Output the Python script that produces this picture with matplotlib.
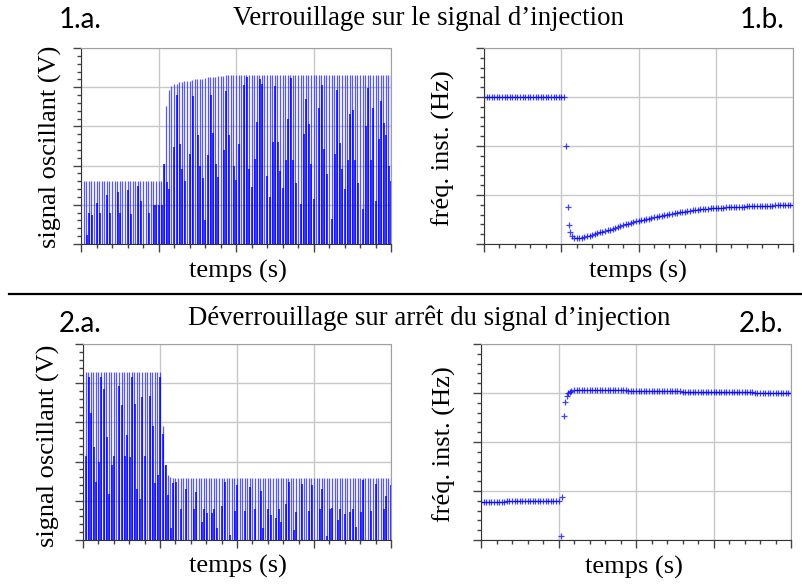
import numpy as np
import matplotlib.pyplot as plt
from matplotlib.ticker import MultipleLocator
from matplotlib.lines import Line2D

plt.rcParams['font.family'] = ['Liberation Serif', 'DejaVu Serif']

# one stroke / one frequency point per oscillation period
t_cycle = np.arange(121) / 30

# 1.a. locking : top of each stroke (envelope) and the darker inner part
env_lock = [1.60] * 31 + [
    2.03, 3.52, 3.93, 4.02, 4.08, 4.09, 4.13, 4.14, 4.15, 4.16,
    4.17, 4.19, 4.20, 4.21, 4.21, 4.22, 4.23, 4.25, 4.25, 4.26,
    4.27, 4.28, 4.29, 4.29, 4.30, 4.30, 4.30, 4.31, 4.31] + [4.31] * 60
dark_lock = [
    0, 0.23, 0.80, 0.75, 0, 1.05, 0.80, 0, 0, 1.25,
    0.80, 0, 0, 1.32, 0.80, 0, 0, 1.37, 0.77, 0,
    0, 1.48, 1.10, 0, 0, 0.80, 0, 0.99, 0.99, 0.99,
    1.00,
    2.03, 1.58, 1.40, 0, 2.47, 3.79, 2.56, 1.92, 1.60, 0,
    2.30, 3.78, 0, 2.79, 2.00, 1.69, 0.61, 2.26, 3.81, 2.84,
    2.04, 1.70, 0, 2.41, 3.91, 2.77, 0, 2.00, 1.62,
    2.54, 0, 4.06, 4.25, 1.92, 1.45, 2.16, 3.10, 4.21, 4.09,
    0, 1.73, 1.19, 2.60, 4.03, 2.59, 1.86, 1.42, 2.15, 3.20,
    4.23, 2.15, 1.56, 0, 1.02, 2.81, 3.70, 3.05, 2.04, 1.14,
    0, 3.47, 4.06, 2.42, 1.78, 0, 0.63, 2.29, 3.92, 2.58,
    1.91, 1.40, 2.14, 3.31, 3.43, 2.14, 1.56, 0, 0.89, 3.00,
    3.98, 2.15, 3.48, 1.10, 2.69, 3.65, 3.08, 2.77, 2.00, 1.60]

# 2.a. unlocking
env_unlock = [4.28] * 30 + [2.90, 1.92, 1.67, 1.60, 1.58] + [1.57] * 45 + [1.58] * 40
dark_unlock = [
    2.14, 4.15, 3.25, 2.36, 1.48, 2.00, 4.17, 3.86, 2.64, 1.18,
    1.91, 2.14, 0, 3.92, 3.45, 2.14, 2.67, 2.11, 4.15, 3.48,
    1.30, 1.04, 3.66, 2.14, 0, 3.68, 2.92, 1.46, 1.65, 4.17,
    2.71, 1.92, 1.14, 0.30, 1.46, 1.49, 0, 0.78, 0, 1.31,
    0, 0, 0.78, 1.23, 0, 0.46, 0.78, 0.69, 0, 0.69,
    0.78, 0.31, 0, 0.87, 1.48, 0, 0.12, 0, 0.74, 1.40,
    0, 0, 0.75, 0, 1.35, 0, 0.79, 0, 1.26, 0.31,
    0, 0.78, 0.64, 0, 0.56, 0.78, 0.47, 0, 0.92, 1.47,
    0, 0.25, 0.72, 0, 1.43, 0, 0, 0.75, 1.40, 0,
    0, 0.78, 1.29, 0, 0.10, 0.78, 0.81, 0, 0.52, 0.78,
    0, 0.67, 0, 0.72, 0.78, 0.33, 0, 0.72, 1.52, 0,
    0, 0.74, 0, 1.42, 0, 0, 0.78, 1.12, 0, 1.40]

# 1.b. instantaneous frequency, locking
f_lock_pre = [3.0] * 32
t_lock_jump = [1.065, 1.087, 1.100, 1.113, 1.139, 1.170]
f_lock_jump = [1.99, 0.75, 0.39, 0.25, 0.17, 0.12]
f_lock_post = [
    0.12, 0.12, 0.13, 0.15, 0.16, 0.17, 0.19, 0.20, 0.22, 0.24,
    0.25, 0.26, 0.28, 0.29, 0.31, 0.33, 0.35, 0.36, 0.38, 0.40,
    0.41, 0.43, 0.44, 0.46, 0.47, 0.48, 0.50, 0.51, 0.52, 0.54,
    0.55, 0.56, 0.57, 0.58, 0.59, 0.60, 0.61, 0.62, 0.63, 0.64,
    0.65, 0.65, 0.66, 0.67, 0.68, 0.69, 0.69, 0.70, 0.71, 0.71,
    0.72, 0.72, 0.73, 0.73, 0.73, 0.74, 0.74, 0.74, 0.75, 0.75,
    0.75, 0.75, 0.76, 0.76, 0.76, 0.76, 0.77, 0.77, 0.77, 0.77,
    0.77, 0.78, 0.78, 0.78, 0.78, 0.78, 0.78, 0.79, 0.79, 0.79,
    0.79, 0.79, 0.79, 0.79, 0.79]

# 2.b. instantaneous frequency, unlocking
f_unlock_pre = [0.78] * 10 + [0.79] * 15 + [0.80] * 6
t_unlock_jump = [1.03, 1.05, 1.07, 1.09, 1.11, 1.127, 1.15]
f_unlock_jump = [0.08, 0.88, 2.53, 2.81, 2.93, 2.99, 3.03]
f_unlock_post = [
    3.05, 3.06, 3.06, 3.07, 3.07, 3.07, 3.07, 3.07, 3.07, 3.07,
    3.07, 3.07, 3.07, 3.06, 3.06, 3.06, 3.06, 3.06, 3.06, 3.06,
    3.06, 3.06, 3.05, 3.05, 3.05, 3.05, 3.05, 3.05, 3.05, 3.05,
    3.05, 3.04, 3.04, 3.04, 3.04, 3.04, 3.04, 3.04, 3.04, 3.04,
    3.04, 3.04, 3.04, 3.03, 3.03, 3.03, 3.03, 3.03, 3.03, 3.03,
    3.03, 3.03, 3.03, 3.03, 3.03, 3.03, 3.02, 3.02, 3.02, 3.02,
    3.02, 3.02, 3.02, 3.02, 3.02, 3.02, 3.02, 3.02, 3.02, 3.02,
    3.02, 3.01, 3.01, 3.01, 3.01, 3.01, 3.01, 3.01, 3.01, 3.01,
    3.01, 3.01, 3.01, 3.01, 3.01, 3.01]

W, H = 802, 584


def box(x0, y0, x1, y1):
    # pixel box (top-left origin) -> figure fraction rect
    return [x0 / W, 1 - y1 / H, (x1 - x0) / W, (y1 - y0) / H]


def style_axes(ax, ymax):
    ax.set_xlim(0, 4)
    ax.set_ylim(0, ymax)
    ax.xaxis.set_major_locator(MultipleLocator(1))
    ax.xaxis.set_minor_locator(MultipleLocator(0.2))
    ax.yaxis.set_major_locator(MultipleLocator(1))
    ax.yaxis.set_minor_locator(MultipleLocator(0.2))
    ax.grid(True, which='major', color='#c8c8c8', lw=1)
    ax.set_axisbelow(True)
    ax.tick_params(which='both', direction='out', color='#444444',
                   labelleft=False, labelbottom=False, width=1)
    ax.tick_params(which='major', length=6)
    ax.tick_params(which='minor', length=3)
    for s in ['top', 'right']:
        ax.spines[s].set_color('#a0a0a0')
    for s in ['left', 'bottom']:
        ax.spines[s].set_color('#333333')


def signal_panel(ax, env, dark):
    t = t_cycle[1:]
    ax.vlines(t, 0, env, colors='#3a3aff', lw=0.9, alpha=0.85)
    ax.vlines(t + 0.006, 0, dark, colors='#0000ff', lw=1.1)
    style_axes(ax, 5)


def freq_panel(ax, parts):
    for t, f in parts:
        ax.plot(t, f, '+', color='#0000ff', ms=5, mew=0.9, alpha=0.75)
    style_axes(ax, 4)


fig = plt.figure(figsize=(W / 100, H / 100), dpi=100)

ax1a = fig.add_axes(box(81, 48, 391, 244))
signal_panel(ax1a, env_lock, dark_lock)

ax1b = fig.add_axes(box(484, 48, 793, 244))
freq_panel(ax1b, [(t_cycle[:32], f_lock_pre), (t_lock_jump, f_lock_jump),
                  (t_cycle[36:], f_lock_post)])

ax2a = fig.add_axes(box(83, 344, 391, 540))
signal_panel(ax2a, env_unlock, dark_unlock)

ax2b = fig.add_axes(box(481, 344, 791, 540))
freq_panel(ax2b, [(t_cycle[:31], f_unlock_pre), (t_unlock_jump, f_unlock_jump),
                  (t_cycle[35:], f_unlock_post)])


def px_text(x, y, s, **kw):
    fig.text(x / W, 1 - y / H, s, **kw)


# titles
px_text(428, 25, 'Verrouillage sur le signal d’injection', ha='center', va='baseline', size=19.3)
px_text(429, 325, 'Déverrouillage sur arrêt du signal d’injection', ha='center', va='baseline', size=19.3)

# panel tags
tag = dict(family=['Lato', 'DejaVu Sans'], size=20, va='baseline', ha='left')
px_text(59, 28, '1.a.', **tag)
px_text(740, 28, '1.b.', **tag)
px_text(59, 332, '2.a.', **tag)
px_text(739, 332, '2.b.', **tag)

# axis labels
lab = dict(size=19, ha='center', va='center')
px_text(50, 147, 'signal oscillant (V)', rotation=90, **lab)
px_text(443, 148, 'fréq. inst. (Hz)', rotation=90, **lab)
px_text(48, 446, 'signal oscillant (V)', rotation=90, **lab)
px_text(444, 444, 'fréq. inst. (Hz)', rotation=90, **lab)
px_text(238, 271, 'temps (s)', **lab)
px_text(638, 271, 'temps (s)', **lab)
px_text(238, 566, 'temps (s)', **lab)
px_text(634, 567, 'temps (s)', **lab)

# separator between the two experiments
fig.add_artist(Line2D([9 / W, 1], [1 - 293.5 / H] * 2, color='black', lw=1.6))

fig.savefig('out.png', dpi=100)
